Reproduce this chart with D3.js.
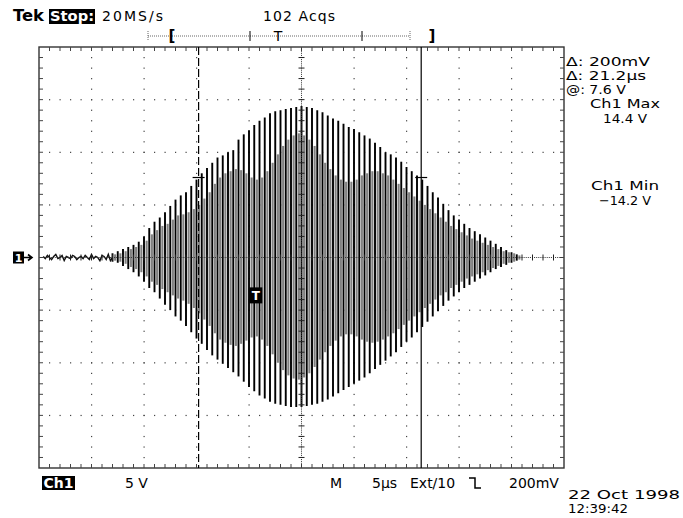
<!DOCTYPE html>
<html><head><meta charset="utf-8">
<script src="https://cdn.jsdelivr.net/npm/d3@7"></script>
<style>
html,body{margin:0;padding:0;background:#fff;}
svg{display:block;}
text{font-family:"DejaVu Sans",sans-serif;}
</style></head><body>
<svg id="scope" width="683" height="518"></svg>
<script>
// Horizontal: 10 divisions of 5 µs; vertical: 8 divisions of 5 V
const timeSpan = [0, 50];
const voltSpan = [-20, 20];
const timeDiv = 5, voltDiv = 5;

// Baseline noise before the burst (V), from 0.4 µs in 0.2 µs steps
const noiseStart = 0.4, noiseStep = 0.2;
const noiseVolts = [0.1,-0.1,0.2,0,-0.2,0.1,0.3,-0.1,0,0.2,-0.3,0.1,0,-0.1,0.2,0.1,-0.2,0,0.1,-0.1,0.2,0,-0.2,0.3,-0.1,0.1,0,-0.3,0.2,0.1,-0.2,0.3,-0.3];

// Ringing burst: one cycle every 0.5 µs starting at 7.0 µs
const burstStart = 7.0, cyclePeriod = 0.5;
// Positive and negative peak of each cycle (V)
const peakHigh = [0.4,0.6,0.8,1.0,1.2,1.5,2.0,2.8,3.4,3.8,
  4.3,4.9,5.5,5.9,6.2,6.8,7.4,8.0,8.5,9.0,
  9.5,9.7,10.0,10.2,11.2,11.7,12.1,12.6,13.0,13.3,
  13.7,13.9,14.0,14.1,14.2,14.3,14.4,14.3,14.2,14.0,
  13.8,13.5,13.2,13.0,12.7,12.4,12.2,11.9,11.6,11.3,
  10.9,10.5,10.0,9.8,9.5,9.1,8.6,8.2,7.8,7.4,
  6.8,6.2,5.7,5.1,4.5,4.0,3.6,3.2,2.8,2.5,
  2.2,1.9,1.6,1.3,1.0,0.7,0.5,0.3];
const peakLow = [-0.4,-0.5,-0.8,-1.1,-1.4,-1.8,-2.3,-2.9,-3.3,-3.9,
  -4.5,-5.0,-5.6,-6.0,-6.5,-7.1,-7.7,-8.2,-8.8,-9.3,
  -9.7,-10.1,-10.5,-10.9,-11.3,-11.8,-12.3,-12.7,-13.1,-13.4,
  -13.7,-13.9,-14.0,-14.1,-14.2,-14.2,-14.2,-14.1,-14.0,-13.9,
  -13.7,-13.5,-13.2,-12.9,-12.6,-12.3,-12.0,-11.7,-11.4,-11.0,
  -10.6,-10.2,-9.8,-9.4,-9.0,-8.5,-8.0,-7.6,-7.1,-6.6,
  -6.1,-5.6,-5.1,-4.6,-4.1,-3.7,-3.3,-2.9,-2.6,-2.3,
  -2.0,-1.7,-1.4,-1.1,-0.9,-0.7,-0.5,-0.3];
// Earlier acquisitions, half a cycle later (V)
const ghostHigh = [0.3,0.4,0.6,0.8,1.0,1.2,1.6,2.2,2.6,3.0,
  3.2,3.6,4.0,4.1,4.3,4.6,5.0,5.6,6.2,7.0,
  7.6,8.0,8.2,8.4,8.3,8.0,7.6,7.4,7.6,8.2,
  9.0,9.8,10.6,11.2,11.6,11.8,11.6,11.2,10.6,9.8,
  9.0,8.4,7.8,7.4,7.2,7.2,7.4,7.8,8.0,8.2,
  8.2,8.0,7.8,7.4,7.0,6.6,6.2,5.8,5.4,5.0,
  4.6,4.2,3.8,3.4,3.0,2.7,2.4,2.1,1.8,1.6,
  1.4,1.2,1.0,0.8,0.6,0.5,0.4,0.2];
const ghostLow = [-0.3,-0.4,-0.6,-0.9,-1.1,-1.4,-1.8,-2.3,-2.6,-3.0,
  -3.3,-3.6,-3.9,-4.1,-4.4,-4.8,-5.3,-5.9,-6.5,-7.2,
  -7.8,-8.1,-8.3,-8.4,-8.2,-7.9,-7.6,-7.5,-7.8,-8.4,
  -9.2,-10.0,-10.7,-11.2,-11.5,-11.6,-11.4,-11.0,-10.4,-9.7,
  -9.0,-8.4,-7.9,-7.5,-7.3,-7.3,-7.5,-7.8,-8.0,-8.1,
  -8.0,-7.8,-7.5,-7.2,-6.8,-6.4,-6.0,-5.6,-5.2,-4.8,
  -4.4,-4.0,-3.6,-3.3,-2.9,-2.6,-2.3,-2.0,-1.8,-1.6,
  -1.4,-1.2,-1.0,-0.8,-0.6,-0.5,-0.4,-0.2];

// Time cursors (µs) and the level they read
const cursorTimes = [15.2, 36.4];
const cursorLevel = 7.6;
// Trigger level marker
const triggerTime = 20.6, triggerVolts = -3.6;

// Readout texts
const headerLabels = ["20MS/s", "102 Acqs"];
const cursorReadouts = ["Δ: 200mV", "Δ: 21.2µs", "@: 7.6 V"];
const maxLabels = ["Ch1 Max", "14.4 V"];
const minLabels = ["Ch1 Min", "\u221214.2 V"];
const footerLabels = ["5 V", "M", "5µs", "Ext/10", "200mV"];
const stampLabels = ["22 Oct 1998", "12:39:42"];

const svg = d3.select("#scope");
const x = d3.scaleLinear().domain(timeSpan).range([39, 564]);
const y = d3.scaleLinear().domain(voltSpan).range([468, 47]);

const minorT = d3.range(timeSpan[0] + 1, timeSpan[1], 1);
const minorV = d3.range(voltSpan[0] + 1, voltSpan[1], 1);
const majorT = d3.range(timeSpan[0] + timeDiv, timeSpan[1], timeDiv).filter(t => t !== 25);
const majorV = d3.range(voltSpan[0] + voltDiv, voltSpan[1], voltDiv).filter(v => v !== 0);

const grid = svg.append("g");
// dotted major division lines
majorT.forEach(t => {
  grid.selectAll(null).data(minorV).join("rect")
    .attr("x", x(t) - 0.5).attr("y", d => y(d) - 0.5).attr("width", 1.2).attr("height", 1.2).attr("fill", "#444");
});
majorV.forEach(v => {
  grid.selectAll(null).data(minorT).join("rect")
    .attr("x", d => x(d) - 0.5).attr("y", y(v) - 0.5).attr("width", 1.2).attr("height", 1.2).attr("fill", "#444");
});
// frame
grid.append("rect").attr("x", x(0)).attr("y", y(20)).attr("width", x(50) - x(0)).attr("height", y(-20) - y(20))
  .attr("fill", "none").attr("stroke", "#333").attr("stroke-width", 1.4);
// tick marks along the frame
grid.selectAll(null).data(minorT).join("path")
  .attr("d", d => `M${x(d)},${y(20)}v4M${x(d)},${y(-20)}v-4`)
  .attr("stroke", "#444").attr("stroke-width", 1);
grid.selectAll(null).data(minorV).join("path")
  .attr("d", d => `M${x(0)},${y(d)}h4M${x(50)},${y(d)}h-4`)
  .attr("stroke", "#444").attr("stroke-width", 1);

// waveform
const wave = svg.append("g");
const noisePts = noiseVolts.map((v, i) => [noiseStart + i * noiseStep, v]);
wave.append("path")
  .attr("d", d3.line().x(d => x(d[0])).y(d => y(d[1]))(noisePts.concat([[burstStart, 0]])))
  .attr("fill", "none").attr("stroke", "#111").attr("stroke-width", 1.4);

const cycles = peakHigh.map((v, i) => ({
  t: burstStart + i * cyclePeriod, hi: v, lo: peakLow[i], ghi: ghostHigh[i], glo: ghostLow[i]
}));
wave.selectAll(".ghost").data(cycles).join("line").attr("class", "ghost")
  .attr("x1", d => x(d.t + cyclePeriod / 2)).attr("x2", d => x(d.t + cyclePeriod / 2))
  .attr("y1", d => y(d.ghi)).attr("y2", d => y(d.glo))
  .attr("stroke", "#808080").attr("stroke-width", 2.1);
wave.selectAll(".stroke").data(cycles).join("line").attr("class", "stroke")
  .attr("x1", d => x(d.t)).attr("x2", d => x(d.t))
  .attr("y1", d => y(d.hi)).attr("y2", d => y(d.lo))
  .attr("stroke", "#000").attr("stroke-width", 1.9);

// centre cross with fine ticks, drawn over the trace
const fineT = d3.range(timeSpan[0] + 0.2, timeSpan[1], 0.2);
const fineV = d3.range(voltSpan[0] + 0.2, voltSpan[1], 0.2);
const centre = svg.append("g");
centre.selectAll(null).data(fineT).join("rect")
  .attr("x", d => x(d) - 0.5).attr("y", y(0) - 0.5).attr("width", 1).attr("height", 1).attr("fill", "#333");
centre.selectAll(null).data(fineV).join("rect")
  .attr("x", x(25) - 0.5).attr("y", d => y(d) - 0.5).attr("width", 1).attr("height", 1).attr("fill", "#333");
centre.selectAll(null).data(minorT).join("path")
  .attr("d", d => `M${x(d)},${y(0) - 3}v6`).attr("stroke", "#222").attr("stroke-width", 1);
centre.selectAll(null).data(minorV).join("path")
  .attr("d", d => `M${x(25) - 3},${y(d)}h6`).attr("stroke", "#222").attr("stroke-width", 1);

// cursors
const cur = svg.append("g");
cursorTimes.forEach((t, i) => {
  cur.append("line").attr("x1", x(t)).attr("x2", x(t)).attr("y1", y(20)).attr("y2", y(-20))
    .attr("stroke", "#000").attr("stroke-width", 1.2)
    .attr("stroke-dasharray", i === 0 ? "8,3" : null);
  cur.append("line").attr("x1", x(t) - 6).attr("x2", x(t) + 6).attr("y1", y(cursorLevel)).attr("y2", y(cursorLevel))
    .attr("stroke", "#000").attr("stroke-width", 1.2);
});

// trigger level box
const tb = svg.append("g").attr("transform", `translate(${x(triggerTime)},${y(triggerVolts)})`);
tb.append("rect").attr("x", -6).attr("y", -8).attr("width", 13).attr("height", 16).attr("fill", "#000");
tb.append("text").attr("x", 0.5).attr("y", 5).attr("text-anchor", "middle").attr("fill", "#fff")
  .attr("font-size", 12).attr("font-weight", "bold").text("T");

// channel ground marker
const gm = svg.append("g").attr("transform", `translate(13,${y(0)})`);
gm.append("rect").attr("x", 0).attr("y", -6).attr("width", 11).attr("height", 12).attr("fill", "#000");
gm.append("text").attr("x", 5.5).attr("y", 4.5).attr("text-anchor", "middle").attr("fill", "#fff")
  .attr("font-size", 11).attr("font-weight", "bold").text("1");
gm.append("path").attr("d", "M11,0h8M15,-3l4,3l-4,3").attr("fill", "none").attr("stroke", "#000").attr("stroke-width", 1.6);

// header
const hdr = svg.append("g").attr("font-size", 14);
hdr.append("text").attr("x", 13).attr("y", 21).attr("font-weight", "bold").attr("font-size", 15)
  .attr("textLength", 31).attr("lengthAdjust", "spacingAndGlyphs").text("Tek");
hdr.append("rect").attr("x", 49).attr("y", 9).attr("width", 46).attr("height", 15).attr("fill", "#000");
hdr.append("text").attr("x", 50).attr("y", 21).attr("fill", "#fff").attr("font-weight", "bold")
  .attr("textLength", 44).attr("lengthAdjust", "spacingAndGlyphs").text("Stop:");
hdr.append("text").attr("x", 102).attr("y", 21).attr("textLength", 61).text(headerLabels[0]);
hdr.append("text").attr("x", 263).attr("y", 21).attr("textLength", 72).text(headerLabels[1]);

// record position bar
const bar = svg.append("g");
bar.append("line").attr("x1", 148).attr("x2", 410).attr("y1", 36).attr("y2", 36)
  .attr("stroke", "#666").attr("stroke-dasharray", "1,1");
[[148, true], [250, false], [362, false], [410, true]].forEach(([bx, dotted]) => {
  bar.append("line").attr("x1", bx).attr("x2", bx).attr("y1", 31).attr("y2", 41)
    .attr("stroke", dotted ? "#666" : "#000").attr("stroke-dasharray", dotted ? "1,1" : null);
});
bar.append("text").attr("x", 172).attr("y", 41).attr("font-size", 15).attr("font-weight", "bold").attr("text-anchor", "middle").text("[");
bar.append("text").attr("x", 278).attr("y", 41).attr("font-size", 14).attr("text-anchor", "middle").text("T");
bar.append("text").attr("x", 432).attr("y", 41).attr("font-size", 15).attr("font-weight", "bold").attr("text-anchor", "middle").text("]");

// right-hand readouts
const rr = svg.append("g").attr("font-size", 13);
const readWidths = [84, 80, 60];
cursorReadouts.forEach((s, i) => rr.append("text").attr("x", 566).attr("y", 66 + i * 14)
  .attr("textLength", readWidths[i]).attr("lengthAdjust", "spacingAndGlyphs").text(s));
maxLabels.forEach((s, i) => rr.append("text").attr("x", 625).attr("y", 108 + i * 15).attr("text-anchor", "middle")
  .attr("textLength", i ? 44 : 70).attr("lengthAdjust", "spacingAndGlyphs").text(s));
minLabels.forEach((s, i) => rr.append("text").attr("x", 625).attr("y", 190 + i * 15).attr("text-anchor", "middle")
  .attr("textLength", i ? 52 : 68).attr("lengthAdjust", "spacingAndGlyphs").text(s));

// footer
const ft = svg.append("g").attr("font-size", 14);
ft.append("rect").attr("x", 42).attr("y", 476).attr("width", 33).attr("height", 14).attr("fill", "#000");
ft.append("text").attr("x", 58.5).attr("y", 488).attr("text-anchor", "middle").attr("fill", "#fff").attr("font-weight", "bold").text("Ch1");
ft.append("text").attr("x", 125).attr("y", 488).text(footerLabels[0]);
ft.append("text").attr("x", 330).attr("y", 488).text(footerLabels[1]);
ft.append("text").attr("x", 372).attr("y", 488).text(footerLabels[2]);
ft.append("text").attr("x", 410).attr("y", 488).text(footerLabels[3]);
ft.append("path").attr("d", "M469,478h6v10h6").attr("fill", "none").attr("stroke", "#000").attr("stroke-width", 1.5);
ft.append("text").attr("x", 509).attr("y", 488).text(footerLabels[4]);
const stampG = svg.append("g").attr("font-size", 13);
stampLabels.forEach((s, i) => stampG.append("text").attr("x", 568).attr("y", 499 + i * 14)
  .attr("textLength", i ? 60 : 112).attr("lengthAdjust", "spacingAndGlyphs").text(s));
</script>
</body></html>
